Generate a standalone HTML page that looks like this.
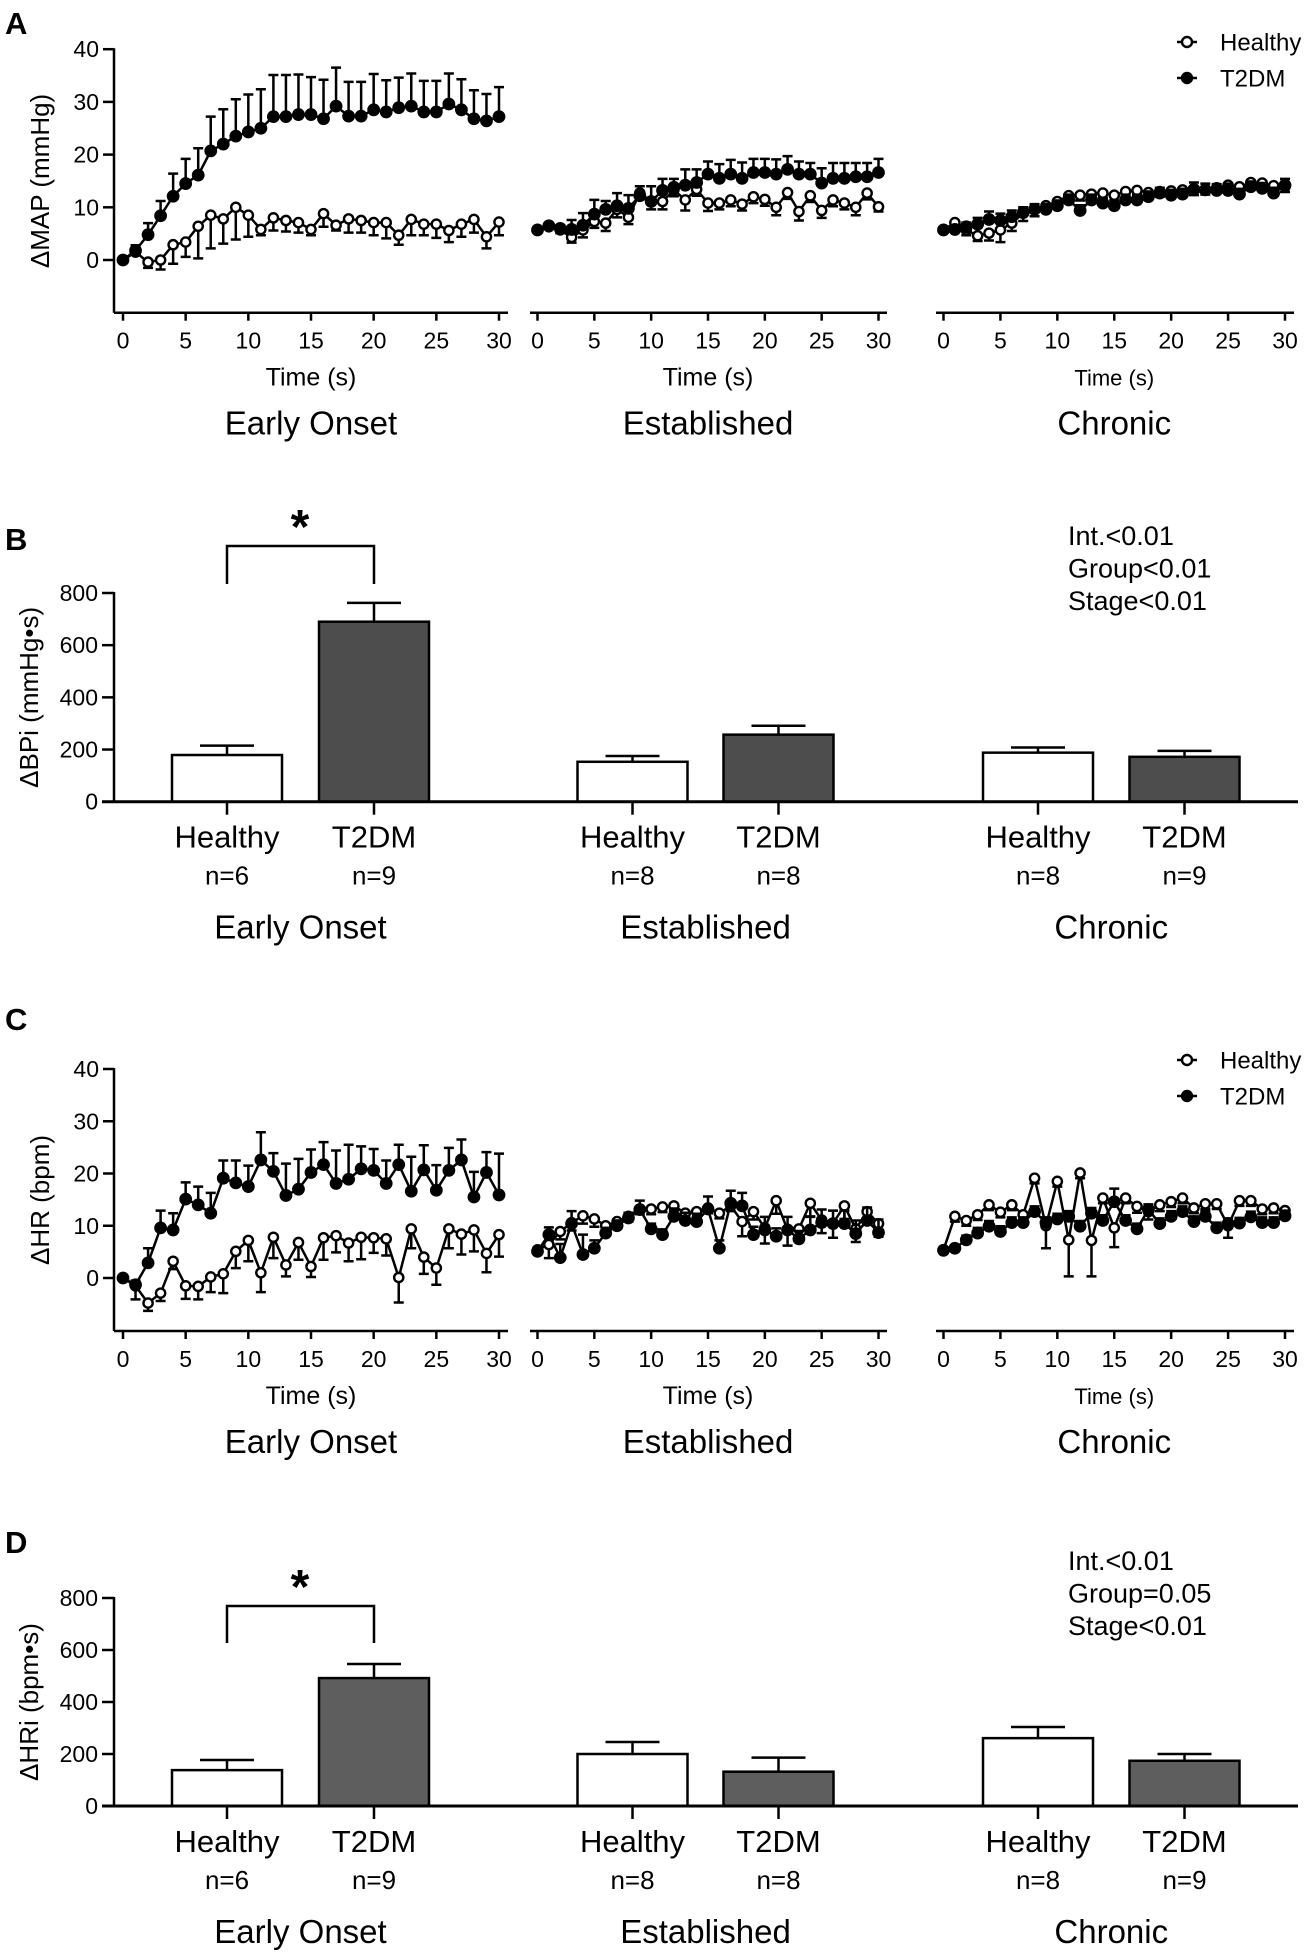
<!DOCTYPE html>
<html><head><meta charset="utf-8"><style>
html,body{margin:0;padding:0;background:#fff;}
svg text{font-family:"Liberation Sans",Arial,sans-serif;fill:#000;}
</style></head><body>
<svg id="fig" xmlns="http://www.w3.org/2000/svg" width="1306" height="1951" viewBox="0 0 1306 1951">
<rect x="0" y="0" width="1306" height="1951" fill="#fff"/>
</svg>
<script>
// ---------- DATA ----------
const times = [0,1,2,3,4,5,6,7,8,9,10,11,12,13,14,15,16,17,18,19,20,21,22,23,24,25,26,27,28,29,30];
const stages = ["Early Onset","Established","Chronic"];
const xTicks = [0,5,10,15,20,25,30];
const mapTicks = [0,10,20,30,40];
const hrTicks = [0,10,20,30,40];
const barTicks = [0,200,400,600,800];
const groups = ["Healthy","T2DM"];
const nHealthy = ["n=6","n=8","n=8"];
const nT2dm = ["n=9","n=8","n=9"];

// Panel A: ΔMAP
const mapEarlyT2 = [0,1.8,4.8,8.4,12.1,14.5,16.1,20.7,22,23.5,24.3,25,27.2,27.2,27.6,27.6,26.8,29.2,27.3,27.3,28.5,28.1,28.9,29.2,28.1,28.1,29.6,28.5,26.8,26.4,27.2];
const mapEarlyT2Err = [0,1,2.2,2.8,4.3,4.7,5.1,6.5,6.6,7,7.1,7.4,7.9,7.9,7.6,7.1,7.4,7.3,6.5,6.5,6.8,6,5.7,6.2,5.9,5.9,5.8,5.8,5.4,5.1,5.6];
const mapEarlyH = [0,1.5,-0.4,0,2.9,3.4,6.4,8.5,7.8,10,8.5,5.8,8,7.5,7.1,5.8,8.8,6.6,7.8,7.5,7.1,7.1,4.7,7.7,6.8,6.8,5.6,6.8,7.7,4.4,7.2];
const mapEarlyHErr = [0,0.5,1.1,1.8,3.6,2.8,6.1,6.3,4.7,6.1,4.1,1.1,2.4,2.1,1.9,1.1,2.5,1,2.6,2.3,2.4,3,1.8,3,2.1,2.6,2.2,2.4,2.5,2.2,2.5];
const mapEstT2 = [5.7,6.5,6,5.8,6.6,8.7,9.6,10.3,9.8,12.2,11.1,13.2,13.8,14.2,14.7,16.3,15.5,16.3,15.5,16.6,16.6,16.3,17.2,16.3,16.3,14.6,15.5,15.5,15.8,15.8,16.6];
const mapEstT2Err = [0.4,0.5,0.6,1.8,2.3,2.7,1.6,2.4,2.5,1.8,2.9,2.2,1.6,3,2.5,2.4,2.7,2.7,3,2.6,2.6,2.8,2.5,2.4,2.1,2.8,2.9,2.9,2.6,2.6,2.6];
const mapEstH = [5.7,6.3,5.7,4.3,5.7,7.3,7,9.6,8.1,12.7,11.1,11.1,13.3,11.4,13.4,10.8,10.8,11.4,10.6,12,11.5,10,12.8,9.2,12.2,9.4,11.4,10.8,10,12.7,10.1];
const mapEstHErr = [0.3,0.4,0.6,1,1.4,1.2,1.5,1.5,1.3,1.2,1.5,1.5,1.2,2,1.2,1.5,1.2,1.2,1.2,1.2,1.2,1.5,1.2,1.7,1.2,1.4,1.2,1.2,1.5,1.2,0.9];
const mapChrT2 = [5.7,5.8,6.3,6.8,7.7,7.5,8.2,9,9.6,9.6,10.3,11.4,9.4,11.4,10.8,10.3,11.4,11.4,12,12.7,12.3,12.5,13.4,13.3,13.2,13.2,12.5,13.9,13.6,12.7,14.2];
const mapChrT2Err = [0.3,0.5,0.8,1.2,1.5,1.3,1.2,1,1,1,1,1,1,1,1,1,1,1,1,1,1,1,1.3,1.2,1.2,1.3,1,1,1,1,1.2];
const mapChrH = [5.7,7.1,5.7,4.6,5.1,5.7,7,8.9,9.5,10.3,11.1,12.2,12.3,12.5,12.7,12.3,13,13.2,12.8,13,13.1,13.3,13.3,13.4,13.7,14.2,13.9,14.7,14.6,14.1,13.9];
const mapChrHErr = [0.3,0.8,1,1,1.4,2.3,1.5,1.5,1.2,1,1,1,1,1,1,1,1,1,1,1,1,1,1,1,1,1,1,1,1,1,1];

// Panel C: ΔHR
const hrEarlyT2 = [0,-1.3,2.9,9.6,9.2,15.1,14,12.4,19.1,18.2,17.5,22.6,20.4,15.8,17,20.2,21.7,18.1,18.9,20.9,20.6,18.1,21.7,16.6,20.7,16.8,20.6,22.6,15.5,20.2,15.9];
const hrEarlyT2Err = [0,0.8,2.8,3.3,3.2,3.2,3.5,3.9,3.4,4.3,4,5.3,3.5,6.1,5.8,4.4,4.3,6.3,6.6,4.3,4.1,4.4,3.8,6.6,4.7,4.8,4.3,3.9,4.8,3.9,7.9];
const hrEarlyH = [0,-1.5,-4.8,-2.9,3.2,-1.5,-1.6,0.2,0.8,5.1,7.2,1,7.8,2.5,6.8,2.2,7.7,8.1,6.7,7.8,7.7,7.5,0.1,9.4,4,1.9,9.4,8.4,9.2,4.7,8.3];
const hrEarlyHErr = [0,2.6,1.5,1.5,1.5,2.5,2.5,2.9,3.7,3.2,4,3.7,4,2.2,3.3,2,4.2,3.2,3.5,4.2,2.9,3.2,4.8,3.7,3.2,3.2,3.7,3.9,4.1,3.6,4.2];
const hrEstT2 = [5.1,8.3,3.9,10.4,4.5,5.7,8.6,10,11.5,13.1,9.4,8.3,11.8,11,10.8,13.2,5.7,14.3,13.8,8.3,9.2,8,9.2,7.5,9.2,10.6,10.4,10.4,8.5,11,8.7];
const hrEstT2Err = [0.4,1.4,2.6,2.4,3.8,1.5,1,1,1,1.7,1,1,1.5,1.5,1.5,2.4,1.5,2.4,2.5,1.5,2.5,1.5,2.5,1.5,2.5,2.5,2.5,2.5,2.5,2.5,2.5];
const hrEstH = [5.4,6.4,8.9,10.6,11.9,11.3,10,10.8,11.8,13.2,13.2,13.6,13.8,12.4,12.7,13.4,12.4,13.8,10.8,12.7,9.6,14.8,9.2,9.4,14.3,11.1,10.5,13.8,9.4,12.7,10.4];
const hrEstHErr = [0.4,2.6,1.5,1.5,1.5,1.5,1,1,1,1,1,1,1,1,1,1,1,1,2.8,1.5,3,2.5,3,2.5,2.5,2.5,2.8,2.5,2.5,2.5,2.5];
const hrChrH = [5.4,11.8,11,12.1,14,12.6,14,12.1,19.1,10,18.5,7.3,20.1,7.2,15.3,9.6,15.3,13.7,12.7,14,14.6,15.3,13.4,14.2,14.2,10,14.8,14.8,13.2,13.4,12.9];
const hrChrHErr = [0.3,1,1,1,1,1,1,1,1,4.3,1,7,1,6.9,1,3.7,1,1.2,1.5,1.2,1,1,1,1,1,2.3,1,1,1,1,1];
const hrChrT2 = [5.3,5.7,7.3,8.6,9.9,8.9,10.6,10.6,12.7,10.6,11.3,11.8,9.9,12.4,11,14.6,11,9.4,13.1,10.4,11.8,12.7,10.8,11.8,9.6,10.4,10.5,11.7,10.6,10.6,11.9];
const hrChrT2Err = [0.3,0.5,0.8,1,1,1,1,1,1,1,1,1,1,1,1,2.5,1,1,1,1,1,1,1,1,1,1,1,1,1,1,1];

// Panel B / D bars: [Early, Established, Chronic]
const bpiHealthy = [179,153,188];
const bpiHealthyErr = [36,22,20];
const bpiT2 = [690,257,172];
const bpiT2Err = [72,34,23];
const hriHealthy = [138,200,261];
const hriHealthyErr = [39,46,43];
const hriT2 = [492,132,174];
const hriT2Err = [54,54,26];
const statsB = ["Int.<0.01","Group<0.01","Stage<0.01"];
const statsD = ["Int.<0.01","Group=0.05","Stage<0.01"];

// ---------- DRAW ----------
const NS="http://www.w3.org/2000/svg";
const svg=document.getElementById('fig');
function el(tag,attrs,parent){const e=document.createElementNS(NS,tag);for(const k in attrs)e.setAttribute(k,attrs[k]);(parent||svg).appendChild(e);return e;}
function txt(s,attrs,parent){const e=el('text',attrs,parent);e.textContent=s;return e;}

const linePanels=[{x0:123,x30:499,a0:114,a1:508},{x0:537.5,x30:878.5,a0:530,a1:887},{x0:943.5,x30:1285,a0:936,a1:1294}];

function lineChart(letter,name,top,y0,per10,bottom,yTitle,ticks,sets,legendY){
  const g=el('g',{});
  
  
  const L=txt(letter,{x:5,y:top,'font-size':31,'font-weight':'bold'},g);
  
  
  const yS=v=>y0-v*per10/10;
  const ya=el('g',{},g);
  
  
  el('line',{x1:114,y1:yS(40)-1,x2:114,y2:bottom,stroke:'#000','stroke-width':2.5},ya);
  ticks.forEach(t=>{
    el('line',{x1:103,y1:yS(t),x2:114,y2:yS(t),stroke:'#000','stroke-width':2.5},ya);
    const tl=txt(String(t),{x:99,y:yS(t)+8,'font-size':23,'text-anchor':'end'},ya);
    
    
  });
  const yt=txt(yTitle,{x:0,y:0,'font-size':26,'text-anchor':'middle',transform:`translate(49,${(yS(40)+bottom)/2}) rotate(-90)`},g);
  
  
  sets.forEach((s,pi)=>{
    const p=linePanels[pi];
    const xS=t=>p.x0+(p.x30-p.x0)*t/30;
    const pg=el('g',{},g);
    
    
    el('line',{x1:p.a0,y1:bottom,x2:p.a1,y2:bottom,stroke:'#000','stroke-width':2.5},pg);
    xTicks.forEach(t=>{
      el('line',{x1:xS(t),y1:bottom,x2:xS(t),y2:bottom+8,stroke:'#000','stroke-width':2.5},pg);
      const tl=txt(String(t),{x:xS(t),y:bottom+36,'font-size':23,'text-anchor':'middle'},pg);
      
      
    });
    const xt=txt('Time (s)',{x:(xS(0)+xS(30))/2,y:bottom+73,'font-size':pi==2?22:25,'text-anchor':'middle'},pg);
    
    
    const st=txt(stages[pi],{x:(xS(0)+xS(30))/2,y:bottom+122,'font-size':33,'text-anchor':'middle'},pg);
    
    
    [[s.h,s.he,false,-1],[s.t,s.te,true,1]].forEach(([vals,errs,filled,dir])=>{
      const sg=el('g',{},pg);
      
      
      const pts=times.map((t,i)=>xS(t)+','+yS(vals[i])).join(' ');
      el('polyline',{points:pts,fill:'none',stroke:'#000','stroke-width':2.5},sg);
      times.forEach((t,i)=>{
        const x=xS(t),y=yS(vals[i]),ye=yS(vals[i]+dir*errs[i]);
        const eb=el('path',{d:`M${x},${y}L${x},${ye}M${x-5},${ye}L${x+5},${ye}`,stroke:'#000','stroke-width':2.5,fill:'none'},sg);
        
        
      });
      times.forEach((t,i)=>{
        const m=el('circle',{cx:xS(t),cy:yS(vals[i]),r:filled?5.2:4.6,fill:filled?'#000':'#fff',stroke:'#000','stroke-width':2.4},sg);
        
        
      });
    });
  });
  const lg=el('g',{},g);
  
  
  groups.forEach((gname,i)=>{
    const y=legendY+i*36;
    const e=el('g',{},lg);
    
    
    el('line',{x1:1177,y1:y,x2:1197,y2:y,stroke:'#000','stroke-width':2.5},e);
    el('circle',{cx:1187,cy:y,r:5,fill:i?'#000':'#fff',stroke:'#000','stroke-width':2.4},e);
    txt(gname,{x:1220,y:y+8.5,'font-size':24},e);
  });
}

lineChart('A','panel-a-map-timecourse',34,260,52.7,312.7,'\u0394MAP (mmHg)',mapTicks,[
  {h:mapEarlyH,he:mapEarlyHErr,t:mapEarlyT2,te:mapEarlyT2Err},
  {h:mapEstH,he:mapEstHErr,t:mapEstT2,te:mapEstT2Err},
  {h:mapChrH,he:mapChrHErr,t:mapChrT2,te:mapChrT2Err}],42);
lineChart('C','panel-c-hr-timecourse',1030,1278,52.25,1331,'\u0394HR (bpm)',hrTicks,[
  {h:hrEarlyH,he:hrEarlyHErr,t:hrEarlyT2,te:hrEarlyT2Err},
  {h:hrEstH,he:hrEstHErr,t:hrEstT2,te:hrEstT2Err},
  {h:hrChrH,he:hrChrHErr,t:hrChrT2,te:hrChrT2Err}],1060);

const pairCenters=[[227,374],[632.5,778.5],[1038,1184.5]];
function barChart(letter,name,letterY,y0,y800,yTitle,hv,he,tv,te,t2fill,stats,statY,brTop,brBot,starY){
  const g=el('g',{});
  
  
  const L=txt(letter,{x:5,y:letterY,'font-size':31,'font-weight':'bold'},g);
  
  
  const yS=v=>y0-(y0-y800)*v/800;
  const ya=el('g',{},g);
  
  
  el('line',{x1:114,y1:yS(800)-1,x2:114,y2:y0,stroke:'#000','stroke-width':2.5},ya);
  barTicks.forEach(t=>{
    el('line',{x1:102,y1:yS(t),x2:114,y2:yS(t),stroke:'#000','stroke-width':2.5},ya);
    const tl=txt(String(t),{x:98,y:yS(t)+8,'font-size':23,'text-anchor':'end'},ya);
    
    
  });
  const yt=txt(yTitle,{x:0,y:0,'font-size':26,'text-anchor':'middle',transform:`translate(38,${(yS(800)+y0)/2}) rotate(-90)`},g);
  
  
  stages.forEach((s,i)=>{
    [[hv,he,'#fff',0],[tv,te,t2fill,1]].forEach(([vals,errs,fill,k])=>{
      const cx=pairCenters[i][k];
      const b=el('rect',{x:cx-55,y:yS(vals[i]),width:110,height:y0-yS(vals[i]),fill:fill,stroke:'#000','stroke-width':2.5},g);
      
      
      const ye=yS(vals[i]+errs[i]);
      const eb=el('path',{d:`M${cx},${yS(vals[i])}L${cx},${ye}M${cx-27},${ye}L${cx+27},${ye}`,stroke:'#000','stroke-width':2.5,fill:'none'},g);
      
      
      el('line',{x1:cx,y1:y0,x2:cx,y2:y0+13,stroke:'#000','stroke-width':2.5},g);
      const gl=txt(groups[k],{x:cx,y:y0+46,'font-size':31,'text-anchor':'middle'},g);
      
      
      const nl=txt(k?nT2dm[i]:nHealthy[i],{x:cx,y:y0+83,'font-size':26,'text-anchor':'middle'},g);
      
      
    });
    const sl=txt(s,{x:(pairCenters[i][0]+pairCenters[i][1])/2,y:y0+137,'font-size':33,'text-anchor':'middle'},g);
    
    
  });
  el('line',{x1:102,y1:y0,x2:1298,y2:y0,stroke:'#000','stroke-width':3},g);
  const br=el('path',{d:`M227,${brBot}L227,${brTop}L374,${brTop}L374,${brBot}`,fill:'none',stroke:'#000','stroke-width':2.5},g);
  
  
  const star=txt('*',{x:300,y:starY,'font-size':48,'font-weight':'bold','text-anchor':'middle'},g);
  
  
  stats.forEach((s,i)=>{
    const t=txt(s,{x:1068,y:statY+i*32.5,'font-size':27},g);
    
    
  });
}
barChart('B','panel-b-bpi-bars',550,801.7,593,'\u0394BPi (mmHg\u2022s)',bpiHealthy,bpiHealthyErr,bpiT2,bpiT2Err,'#4d4d4d',statsB,545,546,584,543);
barChart('D','panel-d-hri-bars',1553,1806,1598,'\u0394HRi (bpm\u2022s)',hriHealthy,hriHealthyErr,hriT2,hriT2Err,'#5e5e5e',statsD,1570,1606,1643,1603);
</script>
</body></html>
